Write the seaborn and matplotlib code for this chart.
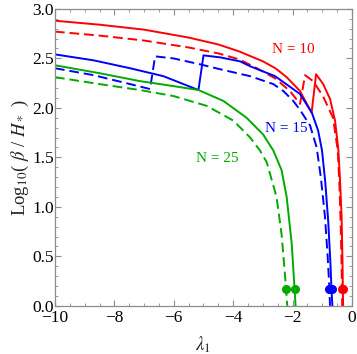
import numpy as np
import matplotlib
matplotlib.use('Agg')
import matplotlib.pyplot as plt
from matplotlib.ticker import MultipleLocator, FormatStrFormatter
import seaborn as sns

# curves: lambda_1 vs log10(beta/H*)
# N = 10
red_x = [-10, -8.5, -7.0, -5.5, -4.5, -3.8, -3.0, -2.58, -2.2, -1.75, -1.36,
         -1.21, -0.97, -0.74, -0.57, -0.46, -0.40, -0.35, -0.32, -0.30]
red_y = [2.88, 2.84, 2.79, 2.71, 2.64, 2.57, 2.47, 2.40, 2.31, 2.17, 1.95,
         2.34, 2.24, 2.09, 1.87, 1.58, 1.25, 0.90, 0.45, 0.0]
red_dash_x = [-10, -8.5, -7.0, -5.5, -4.5, -3.8, -3.2, -2.6, -2.09, -1.75,
              -1.58, -1.31, -0.98, -0.64, -0.48, -0.42, -0.38, -0.35, -0.33]
red_dash_y = [2.77, 2.73, 2.68, 2.61, 2.55, 2.49, 2.40, 2.30, 2.17, 2.04,
              2.33, 2.27, 2.12, 1.90, 1.57, 1.20, 0.80, 0.40, 0.0]

# N = 15
blue_x = [-10, -8.7, -7.47, -6.35, -5.17, -5.0, -4.44, -3.77, -3.43, -2.59,
          -1.75, -1.35, -1.14, -1.01, -0.90, -0.80, -0.73, -0.68, -0.66]
blue_y = [2.54, 2.48, 2.40, 2.32, 2.18, 2.53, 2.51, 2.47, 2.42, 2.32,
          2.14, 1.95, 1.77, 1.57, 1.25, 0.85, 0.45, 0.10, 0.0]
blue_dash_x = [-10, -8.7, -7.47, -6.80, -6.63, -6.02, -5.12, -4.44, -3.43, -2.65,
               -2.31, -1.98, -1.75, -1.41, -1.19, -1.05, -0.91, -0.82, -0.77, -0.74]
blue_dash_y = [2.40, 2.33, 2.24, 2.19, 2.52, 2.50, 2.44, 2.39, 2.32, 2.24,
               2.17, 2.07, 1.98, 1.82, 1.60, 1.30, 0.90, 0.50, 0.23, 0.0]

# N = 25
green_x = [-10, -8.5, -7.14, -6.02, -5.17, -4.33, -3.55, -2.99, -2.65, -2.37,
           -2.20, -2.03, -1.95, -1.90]
green_y = [2.43, 2.35, 2.27, 2.22, 2.18, 2.07, 1.90, 1.73, 1.57, 1.37,
           1.10, 0.63, 0.25, 0.0]
green_dash_x = [-10, -8.5, -7.14, -6.02, -4.89, -3.99, -3.43, -3.10, -2.87, -2.54,
                -2.37, -2.28, -2.22, -2.18]
green_dash_y = [2.31, 2.24, 2.18, 2.12, 2.02, 1.87, 1.70, 1.57, 1.45, 1.10,
                0.72, 0.40, 0.17, 0.0]

dot_level = 0.17
labels = ['N = 10', 'N = 15', 'N = 25']
label_pos = [(-1.98, 2.59), (-2.2, 1.79), (-4.53, 1.49)]

RED, BLUE, GREEN = '#ff0000', '#0000ff', '#00aa00'
FRAME = '#8c8c8c'

sns.set_style('ticks')
plt.rcParams['font.family'] = ['Liberation Serif', 'DejaVu Serif']
plt.rcParams['mathtext.fontset'] = 'stix'

fig = plt.figure(figsize=(3.57, 3.54), dpi=100)
ax = fig.add_axes([0.154, 0.136, 0.832, 0.839])

curves = [
    (red_x, red_y, RED, '-'),
    (red_dash_x, red_dash_y, RED, (0, (5, 2.5))),
    (blue_x, blue_y, BLUE, '-'),
    (blue_dash_x, blue_dash_y, BLUE, (0, (5, 2.5))),
    (green_x, green_y, GREEN, '-'),
    (green_dash_x, green_dash_y, GREEN, (0, (5, 2.5))),
]
for xs, ys, c, ls in curves:
    sns.lineplot(x=xs, y=ys, sort=False, estimator=None, color=c,
                 linewidth=1.4, linestyle=ls, ax=ax)
    # end point marker where the curve passes the dot level
    xd = np.interp(dot_level, ys[::-1], xs[::-1])
    ax.plot(xd, dot_level, 'o', color=c, markersize=5.5, zorder=5)

for txt, (tx, ty), c in zip(labels, label_pos, [RED, BLUE, GREEN]):
    ax.text(tx, ty, txt, color=c, fontsize=11, ha='center', va='center')

ax.set_xlim(-10, 0)
ax.set_ylim(0, 3)
ax.xaxis.set_major_locator(MultipleLocator(2))
ax.xaxis.set_minor_locator(MultipleLocator(0.5))
ax.yaxis.set_major_locator(MultipleLocator(0.5))
ax.yaxis.set_minor_locator(MultipleLocator(0.1))
ax.yaxis.set_major_formatter(FormatStrFormatter('%.1f'))
ax.tick_params(which='both', direction='in', top=True, right=True,
               color=FRAME, labelsize=12.5, labelcolor='black', pad=1)
ax.tick_params(axis='x', which='major', pad=3)
ax.tick_params(which='major', length=4, width=0.8)
ax.tick_params(which='minor', length=2, width=0.6)
for s in ax.spines.values():
    s.set_color(FRAME)
    s.set_linewidth(0.9)

ax.set_xlabel(r'$\lambda_1$', fontsize=13.5, labelpad=6)
ax.set_ylabel(r'Log$_{10}$( $\beta$ / $H_*$ )', fontsize=13.5, labelpad=1)

fig.savefig('out.png', dpi=100)
